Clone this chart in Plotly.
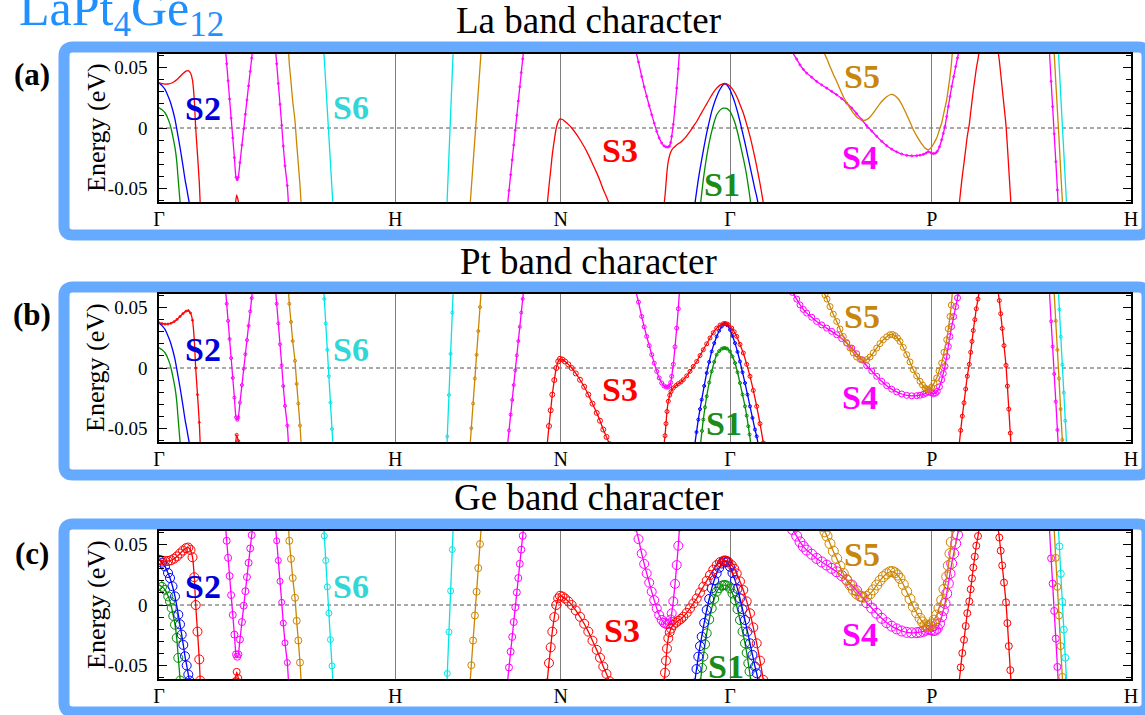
import plotly.graph_objects as go

W, H = 1145, 715
SERIF = "Liberation Serif"

# ---------------------------------------------------------------------------
# k-path (path length, Gamma-H = 1) and high-symmetry labels
# ---------------------------------------------------------------------------
KPATH_POS = [0.0, 1.0, 1.700, 2.4164, 3.270, 4.1134]
KPATH_LABELS = ["Γ", "H", "N", "Γ", "P", "H"]

# ---------------------------------------------------------------------------
# Bands near the Fermi level: k along the path, energy in eV
# ---------------------------------------------------------------------------
# Gamma - H
R1_K = [0.0, 0.0127, 0.0254, 0.0381, 0.0508, 0.0635, 0.0762, 0.0889, 0.1016, 0.1143,
        0.1240, 0.1333, 0.1418, 0.1494, 0.1553, 0.1629, 0.1705, 0.1744]
R1_E = [0.0374, 0.0367, 0.0363, 0.0364, 0.0370, 0.0383, 0.0402, 0.0426, 0.0450, 0.0470,
        0.0475, 0.0455, 0.0395, 0.0230, 0.0000, -0.0220, -0.0450, -0.0625]

B1_K = [0.0, 0.0127, 0.0254, 0.0381, 0.0466, 0.0571, 0.0677, 0.0817, 0.0889, 0.0960,
        0.1028, 0.1100, 0.1172, 0.1240, 0.1291]
B1_E = [0.0374, 0.0350, 0.0319, 0.0265, 0.0223, 0.0155, 0.0071, -0.0080, -0.0160, -0.0245,
        -0.0330, -0.0424, -0.0500, -0.0575, -0.0625]

G1_K = [0.0, 0.0127, 0.0254, 0.0394, 0.0466, 0.0538, 0.0605, 0.0677, 0.0749, 0.0817, 0.0897]
G1_E = [0.0167, 0.0150, 0.0126, 0.0071, 0.0030, -0.0025, -0.0090, -0.0163, -0.0272, -0.0437, -0.0625]

R2_K = [0.3237, 0.3288, 0.3356, 0.3386]
R2_E = [-0.0630, -0.0553, -0.0605, -0.0640]

M1_K = [0.2815, 0.2865, 0.2924, 0.2987, 0.3053, 0.3122, 0.3191, 0.3259, 0.3310, 0.3356,
        0.3426, 0.3510, 0.3587, 0.3656, 0.3723, 0.3791, 0.3860, 0.3923, 0.3965]
M1_E = [0.0650, 0.0531, 0.0390, 0.0240, 0.0082, -0.0082, -0.0245, -0.0408, -0.0428, -0.0408,
        -0.0286, -0.0141, -0.0006, 0.0114, 0.0231, 0.0349, 0.0468, 0.0578, 0.0650]

M2_K = [0.4930, 0.4981, 0.5049, 0.5121, 0.5193, 0.5260, 0.5332, 0.5430, 0.5485]
M2_E = [0.0650, 0.0531, 0.0368, 0.0196, 0.0022, -0.0150, -0.0313, -0.0476, -0.0650]

O1_K = [0.5480, 0.5514, 0.5586, 0.5658, 0.5755, 0.5827, 0.5895, 0.5967, 0.6022]
O1_E = [0.0650, 0.0531, 0.0381, 0.0223, 0.0060, -0.0131, -0.0294, -0.0476, -0.0650]

C1_K = [0.6971, 0.6995, 0.7057, 0.7123, 0.7189, 0.7255, 0.7321, 0.7365]
C1_E = [0.0650, 0.0572, 0.0368, 0.0150, -0.0068, -0.0286, -0.0504, -0.0650]

# H - N
C2_K = [1.2183, 1.2200, 1.2271, 1.2342, 1.2412, 1.2452]
C2_E = [-0.0650, -0.0566, -0.0223, 0.0117, 0.0458, 0.0650]

O2_K = [1.3161, 1.3217, 1.3292, 1.3368, 1.3440, 1.3512, 1.3585, 1.3639]
O2_E = [-0.0650, -0.0498, -0.0294, -0.0087, 0.0109, 0.0305, 0.0504, 0.0650]

M3_K = [1.4742, 1.4812, 1.4882, 1.4947, 1.5012, 1.5077, 1.5143, 1.5206, 1.5269, 1.5331, 1.5392, 1.5434]
M3_E = [-0.0650, -0.0517, -0.0386, -0.0264, -0.0141, -0.0019, 0.0104, 0.0223, 0.0341, 0.0458, 0.0572, 0.0650]

# around N (S3)
S3_K = [1.6420, 1.6504, 1.6576, 1.6644, 1.6729, 1.6813, 1.6894, 1.6970, 1.7076, 1.7182, 1.7321,
        1.7465, 1.7639, 1.7816, 1.7994, 1.8168, 1.8345, 1.8523, 1.8663, 1.8802, 1.8938, 1.9065]
S3_E = [-0.0650, -0.0480, -0.0350, -0.0220, -0.0100, 0.0000, 0.0055, 0.0076, 0.0070, 0.0054, 0.0030,
        0.0000, -0.0045, -0.0097, -0.0155, -0.0220, -0.0295, -0.0371, -0.0436, -0.0509, -0.0570, -0.0630]

# N - Gamma, upper branch of the anticrossing
M4_K = [2.0165, 2.0292, 2.0427, 2.0533, 2.0639, 2.0745, 2.0851, 2.0957, 2.1063, 2.1168, 2.1274,
        2.1371, 2.1456, 2.1540, 2.1604, 2.1655, 2.1697, 2.1765, 2.1837, 2.1909, 2.1976, 2.2031]
M4_E = [0.0650, 0.0545, 0.0426, 0.0340, 0.0261, 0.0185, 0.0110, 0.0040, -0.0028, -0.0082, -0.0124,
        -0.0148, -0.0157, -0.0158, -0.0150, -0.0120, -0.0069, 0.0030, 0.0175, 0.0330, 0.0490, 0.0650]

# N - Gamma - P, lower branch running over the Gamma maximum
R3_K = [2.1363, 2.1414, 2.1456, 2.1498, 2.1553, 2.1613, 2.1667, 2.1765, 2.1879, 2.1976, 2.2091,
        2.2188, 2.2332, 2.2471, 2.2611, 2.2755, 2.2895, 2.3034, 2.3178, 2.3318, 2.3457, 2.3601,
        2.3741, 2.3881, 2.3953, 2.4037, 2.4092, 2.4236, 2.4342, 2.4448, 2.4587, 2.4727, 2.4871,
        2.5011, 2.5150, 2.5294, 2.5434, 2.5574, 2.5595]
R3_E = [-0.0650, -0.0560, -0.0460, -0.0360, -0.0275, -0.0225, -0.0195, -0.0165, -0.0145, -0.0130, -0.0115,
        -0.0097, -0.0065, -0.0028, 0.0013, 0.0054, 0.0103, 0.0151, 0.0200, 0.0248, 0.0292, 0.0330,
        0.0355, 0.0366, 0.0368, 0.0364, 0.0357, 0.0330, 0.0300, 0.0261, 0.0195, 0.0124, 0.0030,
        -0.0069, -0.0185, -0.0317, -0.0460, -0.0619, -0.0650]

B2_K = [2.2662, 2.2747, 2.2823, 2.2895, 2.2967, 2.3072, 2.3178, 2.3284, 2.3390, 2.3496, 2.3601,
        2.3707, 2.3813, 2.3889, 2.3953, 2.4037, 2.4164, 2.4270, 2.4376, 2.4482, 2.4587, 2.4693,
        2.4799, 2.4905, 2.5011, 2.5116, 2.5222, 2.5294, 2.5375]
B2_E = [-0.0650, -0.0530, -0.0427, -0.0340, -0.0262, -0.0148, -0.0041, 0.0050, 0.0137, 0.0205, 0.0261,
        0.0308, 0.0343, 0.0360, 0.0366, 0.0355, 0.0316, 0.0265, 0.0206, 0.0133, 0.0054, -0.0035,
        -0.0124, -0.0220, -0.0317, -0.0413, -0.0509, -0.0565, -0.0650]

G2_K = [2.2903, 2.2979, 2.3034, 2.3106, 2.3178, 2.3284, 2.3390, 2.3496, 2.3601, 2.3707, 2.3813,
        2.3889, 2.3953, 2.4037, 2.4164, 2.4270, 2.4376, 2.4482, 2.4587, 2.4693, 2.4799, 2.4871,
        2.4939, 2.4990, 2.5061]
G2_E = [-0.0650, -0.0520, -0.0427, -0.0325, -0.0234, -0.0120, -0.0028, 0.0050, 0.0110, 0.0140, 0.0159,
        0.0164, 0.0165, 0.0160, 0.0137, 0.0095, 0.0041, -0.0035, -0.0124, -0.0220, -0.0317, -0.0395,
        -0.0482, -0.0550, -0.0650]

# Gamma - P - H (S4 and S5)
M5_K = [2.6700, 2.6809, 2.6987, 2.7127, 2.7266, 2.7410, 2.7622, 2.7833, 2.8045, 2.8256, 2.8468,
        2.8680, 2.8891, 2.9103, 2.9315, 2.9526, 2.9738, 2.9949, 3.0161, 3.0373, 3.0584, 3.0796,
        3.1007, 3.1219, 3.1430, 3.1642, 3.1854, 3.2065, 3.2205, 3.2345, 3.2459, 3.2556, 3.2670,
        3.2768, 3.2861, 3.2937, 3.3030, 3.3123, 3.3191, 3.3263, 3.3335, 3.3403, 3.3474, 3.3546,
        3.3631, 3.3716, 3.3792, 3.3868]
M5_E = [0.0660, 0.0625, 0.0570, 0.0522, 0.0485, 0.0454, 0.0420, 0.0385, 0.0356, 0.0330, 0.0303,
        0.0275, 0.0243, 0.0206, 0.0165, 0.0118, 0.0069, 0.0019, -0.0025, -0.0069, -0.0110, -0.0146,
        -0.0175, -0.0198, -0.0215, -0.0226, -0.0230, -0.0229, -0.0225, -0.0218, -0.0208, -0.0196, -0.0205,
        -0.0212, -0.0208, -0.0193, -0.0155, -0.0097, -0.0045, 0.0013, 0.0095, 0.0178, 0.0260, 0.0343,
        0.0425, 0.0508, 0.0580, 0.0650]

O3_K = [2.8087, 2.8184, 2.8269, 2.8396, 2.8536, 2.8680, 2.8819, 2.8959, 2.9103, 2.9242, 2.9382,
        2.9526, 2.9666, 2.9805, 2.9949, 3.0089, 3.0229, 3.0373, 3.0512, 3.0652, 3.0796, 3.0935,
        3.1041, 3.1147, 3.1253, 3.1359, 3.1498, 3.1642, 3.1782, 3.1921, 3.2065, 3.2205, 3.2311,
        3.2416, 3.2501, 3.2556, 3.2628, 3.2700, 3.2797, 3.2911, 3.3009, 3.3123, 3.3220, 3.3335,
        3.3403, 3.3474, 3.3529, 3.3584]
O3_E = [0.0650, 0.0605, 0.0570, 0.0508, 0.0445, 0.0385, 0.0322, 0.0261, 0.0210, 0.0165, 0.0125,
        0.0091, 0.0072, 0.0063, 0.0070, 0.0091, 0.0125, 0.0165, 0.0202, 0.0234, 0.0258, 0.0275,
        0.0277, 0.0267, 0.0248, 0.0220, 0.0170, 0.0110, 0.0050, -0.0014, -0.0065, -0.0110, -0.0140,
        -0.0165, -0.0177, -0.0179, -0.0172, -0.0157, -0.0125, -0.0083, -0.0025, 0.0041, 0.0130, 0.0234,
        0.0325, 0.0426, 0.0520, 0.0650]

# P - H
R4_K = [3.3855, 3.3927, 3.3995, 3.4067, 3.4139, 3.4206, 3.4291, 3.4350, 3.4405, 3.4460, 3.4524,
        3.4587, 3.4659, 3.4723]
R4_E = [-0.0650, -0.0516, -0.0398, -0.0288, -0.0174, -0.0068, 0.0030, 0.0130, 0.0220, 0.0310, 0.0400,
        0.0490, 0.0570, 0.0650]

R5_K = [3.5497, 3.5561, 3.5620, 3.5684, 3.5760, 3.5844, 3.5903, 3.5963, 3.6026, 3.6060]
R5_E = [0.0650, 0.0558, 0.0449, 0.0327, 0.0185, 0.0022, -0.0150, -0.0340, -0.0539, -0.0650]

M6_K = [3.7677, 3.7753, 3.7817, 3.7884, 3.7952, 3.8020, 3.8058]
M6_E = [0.0650, 0.0386, 0.0177, -0.0049, -0.0278, -0.0512, -0.0650]

O4_K = [3.7876, 3.7948, 3.8019, 3.8087, 3.8155, 3.8227, 3.8244]
O4_E = [0.0650, 0.0390, 0.0150, -0.0087, -0.0340, -0.0594, -0.0650]

C3_K = [3.8058, 3.8104, 3.8164, 3.8227, 3.8291, 3.8354, 3.8413]
C3_E = [0.0650, 0.0485, 0.0259, 0.0027, -0.0204, -0.0436, -0.0650]

PANEL_TITLES = ["La band character", "Pt band character", "Ge band character"]
PANEL_TAGS = ["(a)", "(b)", "(c)"]
COMPOUND = "LaPt<sub>4</sub>Ge<sub>12</sub>"

# ---------------------------------------------------------------------------
# styling
# ---------------------------------------------------------------------------
LINE_COLORS = {
    "red": "#ff0000", "blue": "#0000ff", "green": "#008c00",
    "magenta": "#ff00ff", "gold": "#cc8500", "cyan": "#00e6e6",
}
LABEL_COLORS = {
    "S1": "#1a8c1a", "S2": "#0000dd", "S3": "#ff0000",
    "S4": "#ff00ff", "S5": "#c8860a", "S6": "#33d6d6",
}

# (name, k, E, colour key); drawing order
BANDS = [
    ("G1", G1_K, G1_E, "green"), ("B1", B1_K, B1_E, "blue"), ("R1", R1_K, R1_E, "red"),
    ("R2", R2_K, R2_E, "red"), ("M1", M1_K, M1_E, "magenta"), ("M2", M2_K, M2_E, "magenta"),
    ("O1", O1_K, O1_E, "gold"), ("C1", C1_K, C1_E, "cyan"), ("C2", C2_K, C2_E, "cyan"),
    ("O2", O2_K, O2_E, "gold"), ("M3", M3_K, M3_E, "magenta"), ("S3", S3_K, S3_E, "red"),
    ("M4", M4_K, M4_E, "magenta"), ("G2", G2_K, G2_E, "green"), ("B2", B2_K, B2_E, "blue"),
    ("R3", R3_K, R3_E, "red"), ("M5", M5_K, M5_E, "magenta"), ("O3", O3_K, O3_E, "gold"),
    ("R4", R4_K, R4_E, "red"), ("R5", R5_K, R5_E, "red"), ("M6", M6_K, M6_E, "magenta"),
    ("O4", O4_K, O4_E, "gold"), ("C3", C3_K, C3_E, "cyan"),
]

# open-circle size per band in panels (a), (b), (c); 0 = line only
MARKER_SIZE = {
    "G1": (0, 0, 9), "B1": (0, 0, 9), "R1": (0, 2, 9), "R2": (0, 3, 7),
    "M1": (2, 3, 7), "M2": (2, 3, 6), "O1": (0, 3, 7), "C1": (0, 3, 6),
    "C2": (0, 3, 6), "O2": (0, 3, 7), "M3": (2, 3, 7), "S3": (0, 5, 9),
    "M4": (2, 4, 9), "G2": (0, 3, 9), "B2": (0, 3, 9), "R3": (0, 4, 9),
    "M5": (2, 6, 10), "O3": (0, 6, 10), "R4": (0, 4, 7), "R5": (0, 4, 7),
    "M6": (2, 3, 7), "O4": (0, 3, 7), "C3": (0, 3, 7),
}

# band labels: (text, k, E) for each panel
BAND_LABELS = [
    [("S2", 0.186, 0.0165), ("S6", 0.813, 0.0170), ("S3", 1.951, -0.0182),
     ("S1", 2.383, -0.0471), ("S5", 2.975, 0.0430), ("S4", 2.967, -0.0240)],
    [("S2", 0.186, 0.0157), ("S6", 0.813, 0.0157), ("S3", 1.951, -0.0174),
     ("S1", 2.391, -0.0463), ("S5", 2.975, 0.0430), ("S4", 2.967, -0.0240)],
    [("S2", 0.186, 0.0157), ("S6", 0.813, 0.0157), ("S3", 1.959, -0.0207),
     ("S1", 2.400, -0.0505), ("S5", 2.975, 0.0414), ("S4", 2.967, -0.0240)],
]

# layout in pixels
PLOT_LEFT, PLOT_RIGHT = 159, 1131
PANEL_TOP = [54, 294, 531]
PLOT_HEIGHT = 148
E_RANGE = [-0.0612, 0.0612]
FRAMES = [(64, 47, 1147, 235), (64, 287, 1147, 475), (64, 524, 1147, 712)]
TITLE_Y = [20, 261, 497]
TAG_Y = [74, 314, 553]
FRAME_BLUE = "#66aaff"


def px(x):
    return x / W


def py(y):
    return 1 - y / H


def rounded_rect(x0, y0, x1, y1, r):
    return (f"M {px(x0 + r)},{py(y0)} L {px(x1 - r)},{py(y0)} "
            f"Q {px(x1)},{py(y0)} {px(x1)},{py(y0 + r)} L {px(x1)},{py(y1 - r)} "
            f"Q {px(x1)},{py(y1)} {px(x1 - r)},{py(y1)} L {px(x0 + r)},{py(y1)} "
            f"Q {px(x0)},{py(y1)} {px(x0)},{py(y1 - r)} L {px(x0)},{py(y0 + r)} "
            f"Q {px(x0)},{py(y0)} {px(x0 + r)},{py(y0)} Z")


fig = go.Figure()
layout = dict(
    width=W, height=H, margin=dict(l=0, r=0, t=0, b=0, autoexpand=False),
    paper_bgcolor="white", plot_bgcolor="white", showlegend=False,
    font=dict(family=SERIF, color="black"),
)
shapes, annotations = [], []

for i in range(3):
    xname = "x" if i == 0 else f"x{i + 1}"
    yname = "y" if i == 0 else f"y{i + 1}"
    top = PANEL_TOP[i]
    bottom = top + PLOT_HEIGHT

    for name, k, e, ckey in BANDS:
        color = LINE_COLORS[ckey]
        size = MARKER_SIZE[name][i]
        fig.add_trace(go.Scatter(
            x=k, y=e, xaxis=xname, yaxis=yname,
            mode="lines+markers" if size > 0 else "lines",
            line=dict(color=color, width=1.3, shape="spline", smoothing=0.6),
            marker=dict(symbol="circle-open", size=size, color=color,
                        line=dict(width=1, color=color)),
            hoverinfo="skip", cliponaxis=True,
        ))

    layout["xaxis" if i == 0 else f"xaxis{i + 1}"] = dict(
        domain=[px(PLOT_LEFT), px(PLOT_RIGHT)], anchor=yname,
        range=[KPATH_POS[0], KPATH_POS[-1]], automargin=False,
        tickmode="array", tickvals=KPATH_POS, ticktext=KPATH_LABELS,
        ticks="", ticklabelstandoff=-2,
        tickfont=dict(family=SERIF, size=20, color="black"),
        showgrid=True, gridcolor="#7f7f7f", gridwidth=1.3,
        showline=True, linecolor="black", linewidth=1.5, mirror=True,
        zeroline=False, fixedrange=True,
    )
    layout["yaxis" if i == 0 else f"yaxis{i + 1}"] = dict(
        domain=[py(bottom), py(top)], anchor=xname, range=E_RANGE, automargin=False,
        tickmode="array", tickvals=[-0.05, 0, 0.05], ticktext=["-0.05", "0", "0.05"],
        ticks="inside", ticklen=8, tickwidth=1.2, tickcolor="black",
        minor=dict(tickmode="linear", tick0=0, dtick=0.01, ticks="inside",
                   ticklen=5, tickwidth=1, tickcolor="black", showgrid=False),
        ticklabelstandoff=6,
        tickfont=dict(family=SERIF, size=19, color="black"),
        showgrid=False, zeroline=False,
        showline=True, linecolor="black", linewidth=1.5, mirror="allticks",
        fixedrange=True,
    )

    # Fermi level
    shapes.append(dict(
        type="line", xref=f"{xname} domain", yref=yname, x0=0, x1=1, y0=0, y1=0,
        line=dict(color="#555555", width=1, dash="4px,3px"), layer="below",
    ))
    # rounded blue frame around the panel
    fx0, fy0, fx1, fy1 = FRAMES[i]
    shapes.append(dict(
        type="path", xref="paper", yref="paper", path=rounded_rect(fx0, fy0, fx1, fy1, 9),
        line=dict(color=FRAME_BLUE, width=11), fillcolor="rgba(0,0,0,0)", layer="below",
    ))

    annotations.append(dict(
        text=PANEL_TITLES[i], xref="paper", yref="paper", x=px(588), y=py(TITLE_Y[i]),
        xanchor="center", yanchor="middle", showarrow=False,
        font=dict(family=SERIF, size=37, color="black"),
    ))
    annotations.append(dict(
        text=f"<b>{PANEL_TAGS[i]}</b>", xref="paper", yref="paper", x=px(32), y=py(TAG_Y[i]),
        xanchor="center", yanchor="middle", showarrow=False,
        font=dict(family=SERIF, size=31, color="black"),
    ))
    annotations.append(dict(
        text="Energy (eV)", textangle=-90, xref="paper", yref="paper",
        x=px(96), y=py(top + PLOT_HEIGHT / 2), xanchor="center", yanchor="middle",
        showarrow=False, font=dict(family=SERIF, size=26, color="black"),
    ))
    for text, k, e in BAND_LABELS[i]:
        annotations.append(dict(
            text=f"<b>{text}</b>", xref=xname, yref=yname, x=k, y=e,
            xanchor="center", yanchor="middle", showarrow=False,
            font=dict(family=SERIF, size=34, color=LABEL_COLORS[text]),
        ))

annotations.append(dict(
    text=COMPOUND, xref="paper", yref="paper", x=px(17), y=py(12),
    xanchor="left", yanchor="middle", showarrow=False,
    font=dict(family=SERIF, size=50, color="#1e90ff"),
))

layout["shapes"] = shapes
layout["annotations"] = annotations
fig.update_layout(**layout)
fig.write_html("out.html")
